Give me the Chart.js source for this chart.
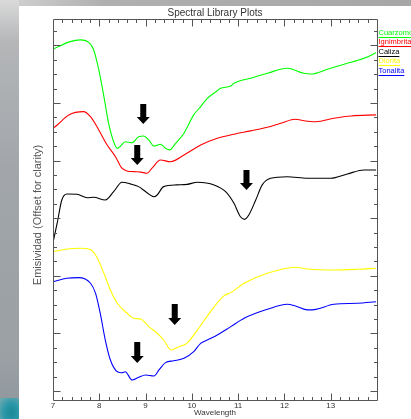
<!DOCTYPE html>
<html><head><meta charset="utf-8">
<script src="https://cdn.jsdelivr.net/npm/chart.js@4"></script>
<style>
html,body{margin:0;padding:0;width:411px;height:419px;overflow:hidden;background:#fff;}
#topbar{position:absolute;left:0;top:0;width:411px;height:6px;background:linear-gradient(to right,#d4d4d4,#b0b0b0 25%,#a6a6a6);}
#leftbar{position:absolute;left:0;top:0;width:19px;height:419px;background:linear-gradient(to bottom,#dadada,#b4b6b8 10%,#a2a6aa 40%,#9aa0a4 85%,#8e969c);}
#blob{position:absolute;left:0;top:398px;width:19px;height:21px;background:radial-gradient(ellipse at 60% 70%,#1c8898 0%,#2a98a8 45%,#6aa8b0 90%);}
#wrap{position:absolute;left:0;top:0;width:411px;height:419px;}
</style></head>
<body>
<div id="topbar"></div><div id="leftbar"></div><div id="blob"></div>
<div id="wrap"><canvas id="c" width="411" height="419"></canvas></div>
<script>
// Series (wavelength in µm, emissivity offset in plot units)
const cuarzoX = [7.00,7.37,7.59,7.79,7.88,7.99,8.10,8.20,8.31,8.39,8.46,8.56,8.71,8.85,8.96,9.07,9.18,9.32,9.43,9.52,9.65,9.83,10.04,10.19,10.33,10.55,10.62,10.84,10.91,11.27,11.63,12.06,12.17,12.42,12.57,12.93,13.29,13.72,13.98];
const cuarzoY = [23.73,24.26,24.38,24.15,23.68,22.29,20.44,18.61,17.31,16.85,17.01,17.31,17.24,17.66,17.71,17.43,17.01,17.13,16.85,16.74,17.20,17.90,19.17,19.75,20.30,20.85,21.02,21.18,21.37,21.72,22.06,22.41,22.34,22.06,22.01,22.34,22.69,23.10,23.49];

const ignimbritaX = [7.00,7.09,7.34,7.66,7.81,7.95,8.17,8.35,8.49,8.60,8.74,8.90,9.03,9.14,9.32,9.54,9.83,10.19,10.55,10.91,11.27,11.63,11.92,12.24,12.42,12.68,13.07,13.44,13.98];
const ignimbritaY = [18.24,18.47,19.17,19.40,19.05,18.35,17.08,16.27,15.47,15.28,15.23,15.20,15.12,15.47,16.04,15.92,16.39,17.08,17.55,17.83,18.06,18.31,18.59,18.87,18.77,18.70,18.94,19.10,19.17];

const calizaX = [7.00,7.09,7.19,7.30,7.52,7.74,7.88,8.13,8.31,8.49,8.67,8.85,9.03,9.18,9.25,9.39,9.68,9.90,10.12,10.48,10.73,10.91,11.05,11.14,11.23,11.38,11.52,11.70,12.06,12.50,13.00,13.36,13.72,13.98];
const calizaY = [10.30,11.65,13.26,13.68,13.66,13.42,13.45,13.26,13.84,14.49,14.38,14.19,13.77,13.49,13.61,14.19,14.31,14.35,14.49,14.31,13.84,13.03,12.10,11.92,12.22,13.26,14.31,14.77,14.88,14.77,14.77,15.07,15.35,15.35];

const dioritaX = [7.00,7.30,7.59,7.79,7.92,8.10,8.24,8.39,8.60,8.74,8.89,9.07,9.25,9.39,9.55,9.72,9.89,10.12,10.40,10.69,10.84,11.13,11.63,12.24,12.50,13.07,13.58,13.98];
const dioritaY = [9.67,9.86,9.91,9.84,9.44,8.17,7.01,6.09,5.40,5.05,5.00,4.47,4.01,3.54,2.85,3.08,3.31,4.24,5.50,6.60,6.83,7.48,8.17,8.59,8.47,8.40,8.45,8.52];

const tonalitaX = [7.00,7.30,7.55,7.81,7.92,8.02,8.13,8.24,8.39,8.49,8.56,8.71,8.85,9.00,9.18,9.29,9.43,9.61,9.83,10.04,10.19,10.33,10.55,10.84,11.13,11.63,12.06,12.24,12.50,12.68,13.07,13.58,13.98];
const tonalitaY = [7.59,7.83,7.87,7.48,6.78,5.40,3.54,2.15,1.34,1.27,1.34,0.76,0.95,1.11,1.04,1.46,1.97,2.10,2.27,2.73,3.31,3.54,3.89,4.47,5.05,5.67,6.02,5.90,5.63,5.67,6.02,6.09,6.20];

const seriesNames = ['Cuarzomonzonita','Ignimbrita','Caliza','Diorita','Tonalita'];
const seriesColors = ['#00ff00','#ff0000','#000000','#ffff00','#0000ff'];

// Arrow annotations (wavelength, top value, tip value)
const arrowX   = [8.95, 8.82, 11.18, 9.63, 8.82];
const arrowTop = [19.93, 17.08, 15.35, 6.04, 3.40];
const arrowTip = [18.54, 15.69, 13.96, 4.58, 1.94];

const xTickLabels = [7,8,9,10,11,12,13];
const yTitle = 'Emisividad (Offset for clarity)';

const seriesX = [cuarzoX, ignimbritaX, calizaX, dioritaX, tonalitaX];
const seriesY = [cuarzoY, ignimbritaY, calizaY, dioritaY, tonalitaY];

const datasets = seriesNames.map((n,i)=>({
  label:n,
  data: seriesX[i].map((x,j)=>({x:x, y:seriesY[i][j]})),
  borderColor: seriesColors[i],
  borderWidth: 1.1,
  pointRadius: 0,
  fill:false,
  cubicInterpolationMode:'monotone'
}));

const FONT = "'Liberation Sans', Arial, sans-serif";

const framePlugin = {
  id:'frame',
  afterDatasetsDraw(chart){
    const {ctx, scales:{x,y}} = chart;
    const a = chart.chartArea;
    ctx.save();
    // arrows
    ctx.fillStyle = '#000';
    for (let i=0;i<arrowX.length;i++){
      const px = x.getPixelForValue(arrowX[i]);
      const pt = y.getPixelForValue(arrowTop[i]);
      const pb = y.getPixelForValue(arrowTip[i]);
      const head = 7;
      ctx.beginPath();
      ctx.moveTo(px-3, pt);
      ctx.lineTo(px+3, pt);
      ctx.lineTo(px+3, pb-head);
      ctx.lineTo(px+6.5, pb-head);
      ctx.lineTo(px, pb);
      ctx.lineTo(px-6.5, pb-head);
      ctx.lineTo(px-3, pb-head);
      ctx.closePath();
      ctx.fill();
    }
    // frame and inward ticks
    const L = Math.round(a.left)+0.5, R = Math.round(a.right)+0.5, T = Math.round(a.top)+0.5, B = Math.round(a.bottom)+0.5;
    ctx.strokeStyle = '#555';
    ctx.lineWidth = 1;
    ctx.beginPath();
    ctx.rect(L, T, R-L, B-T);
    for (let i=0;i<=35;i++){
      const v = 7 + i*0.2;
      const px = Math.round(x.getPixelForValue(v))+0.5;
      if (px <= L+1 || px >= R-1) continue;
      const len = (i%5===0)?7:3.5;
      ctx.moveTo(px,B); ctx.lineTo(px,B-len);
      ctx.moveTo(px,T); ctx.lineTo(px,T+len);
    }
    for (let k=0;k<=25;k++){
      const py = Math.round(y.getPixelForValue(k))+0.5;
      if (py <= T+1 || py >= B-1) continue;
      const len = (k%4===0)?7:3.5;
      ctx.moveTo(L,py); ctx.lineTo(L+len,py);
      ctx.moveTo(R,py); ctx.lineTo(R-len,py);
    }
    ctx.stroke();
    // y title
    ctx.save();
    ctx.translate(38, 215);
    ctx.rotate(-Math.PI/2);
    ctx.font = "11px " + FONT;
    ctx.fillStyle = '#555';
    ctx.textAlign = 'center';
    ctx.textBaseline = 'middle';
    ctx.fillText(yTitle, 0, 0);
    ctx.restore();
    // legend
    ctx.font = "7.5px " + FONT;
    ctx.textBaseline = 'alphabetic';
    ctx.textAlign = 'left';
    const lx = R + 1;
    for (let i=0;i<seriesNames.length;i++){
      const by = 34.5 + i*9.6;
      ctx.fillStyle = seriesColors[i];
      ctx.fillText(seriesNames[i], lx, by);
      const w = ctx.measureText(seriesNames[i]).width;
      ctx.strokeStyle = seriesColors[i];
      ctx.beginPath();
      ctx.moveTo(lx, Math.round(by+2)+0.5);
      ctx.lineTo(lx+w, Math.round(by+2)+0.5);
      ctx.stroke();
    }
    ctx.restore();
  }
};

new Chart(document.getElementById('c'), {
  type:'line',
  data:{datasets},
  plugins:[framePlugin],
  options:{
    responsive:false,
    animation:false,
    events:[],
    layout:{padding:{left:0,right:34,top:0,bottom:0}},
    plugins:{
      legend:{display:false},
      tooltip:{enabled:false},
      title:{
        display:true,
        text:'Spectral Library Plots',
        fullSize:false,
        color:'#333',
        font:{family:FONT,size:10,weight:'normal'},
        padding:{top:7,bottom:0}
      }
    },
    scales:{
      x:{
        type:'linear',
        min:7, max:14,
        grid:{display:false, drawTicks:false},
        border:{display:false},
        afterFit(s){ s.height = 19; },
        afterBuildTicks(s){ s.ticks = xTickLabels.map(v=>({value:v})); },
        ticks:{
          autoSkip:false, maxRotation:0, padding:1,
          color:'#333',
          font:{family:FONT,size:8},
          callback:(v)=>String(v)
        },
        title:{display:true,text:'Wavelength',color:'#333',font:{family:FONT,size:8},padding:{top:0,bottom:1}}
      },
      y:{
        type:'linear',
        min:-0.625, max:25.83,
        grid:{display:false, drawTicks:false},
        border:{display:false},
        ticks:{display:false},
        afterFit(s){ s.width = 53; },
        title:{display:false}
      }
    }
  }
});
</script>
</body></html>
